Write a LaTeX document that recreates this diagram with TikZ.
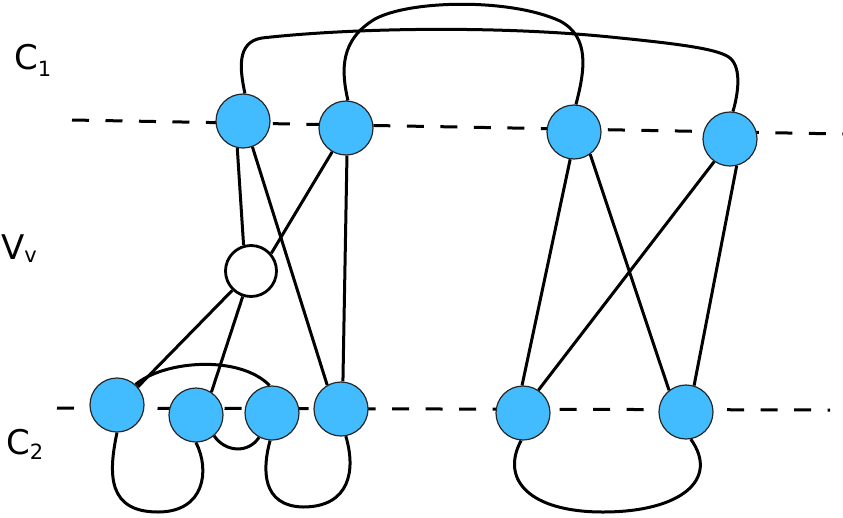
\documentclass[tikz,border=0pt]{standalone}
\usepackage{fontspec}
\setmainfont{DejaVu Sans}
\definecolor{nodeblue}{RGB}{66,188,255}
\begin{document}
\begin{tikzpicture}[x=1pt,y=-1pt,
  vtx/.style={circle,draw=black!85,line width=1.2pt,fill=nodeblue,minimum size=54pt,inner sep=0pt},
  wvtx/.style={circle,draw=black,line width=2.8pt,fill=white,minimum size=51pt,inner sep=0pt},
  edge/.style={line width=3pt,black},
  cut/.style={line width=3pt,black,dash pattern=on 17pt off 16.5pt},
  lbl/.style={anchor=base west,inner sep=0pt}]
\useasboundingbox (0,0) rectangle (843,517);
% dashed lines
\coordinate (d1a) at (72,120);
\coordinate (d1b) at (843,134);
\coordinate (d2a) at (57,408);
\coordinate (d2b) at (830,410);
\draw[cut] (d1a) -- (d1b);
\draw[cut] (d2a) -- (d2b);
% nodes
\node[vtx] (A1) at (243,121) {};
\node[vtx] (A2) at (346,128) {};
\node[vtx] (A3) at (574,132) {};
\node[vtx] (A4) at (730,139) {};
\node[wvtx] (V) at (251,271) {};
\node[vtx] (B1) at (117,405) {};
\node[vtx] (B2) at (196,415) {};
\node[vtx] (B3) at (272,413) {};
\node[vtx] (B4) at (341,409) {};
\node[vtx] (B5) at (523,413) {};
\node[vtx] (B6) at (686,412) {};
% labels
\node[lbl] (c1) at (14,69) {\fontsize{34}{34}\selectfont C\raisebox{-7pt}{\fontsize{21}{21}\selectfont 1}};
\node[lbl] (vv) at (1,259) {\fontsize{34}{34}\selectfont V\raisebox{-3pt}{\fontsize{21}{21}\selectfont v}};
\node[lbl] (c2) at (6,454) {\fontsize{34}{34}\selectfont C\raisebox{-5pt}{\fontsize{21}{21}\selectfont 2}};
% straight edges
\draw[edge] (A1.258) -- (V.106);
\draw[edge] (A1.290) -- (B4.120);
\draw[edge] (A2.240) -- (V.41);
\draw[edge] (A2.272) -- (B4.86);
\draw[edge] (V.226) -- (B1.41);
\draw[edge] (V.252) -- (B2.56);
\draw[edge] (A3.262) -- (B5.92);
\draw[edge] (A3.306) -- (B6.128);
\draw[edge] (A4.235) -- (B5.56);
\draw[edge] (A4.284) -- (B6.73);
% top curves
\draw[edge] (A1.86) .. controls (240,70) and (236,42) .. (262,38)
  .. controls (350,28) and (500,25) .. (620,38)
  .. controls (690,45) and (720,50) .. (730,58)
  .. controls (742,68) and (738,95) .. (A4.84);
\draw[edge] (A2.86) .. controls (341,70) and (340,40) .. (375,19)
  .. controls (410,0) and (510,-2) .. (560,21)
  .. controls (590,37) and (585,70) .. (A3.86);
% bottom curves
\draw[edge] (B1.48) .. controls (165,360) and (240,355) .. (B3.95);
\draw[edge] (B2.311) .. controls (225,452) and (248,454) .. (B3.242);
\draw[edge] (B1.270) .. controls (108,475) and (108,512) .. (158,512)
  .. controls (205,512) and (210,470) .. (B2.270);
\draw[edge] (B3.266) .. controls (262,470) and (262,506) .. (303,507)
  .. controls (350,507) and (356,470) .. (B4.280);
\draw[edge] (B5.266) .. controls (500,480) and (530,512) .. (603,512)
  .. controls (680,512) and (720,480) .. (B6.280);
\end{tikzpicture}
\end{document}
